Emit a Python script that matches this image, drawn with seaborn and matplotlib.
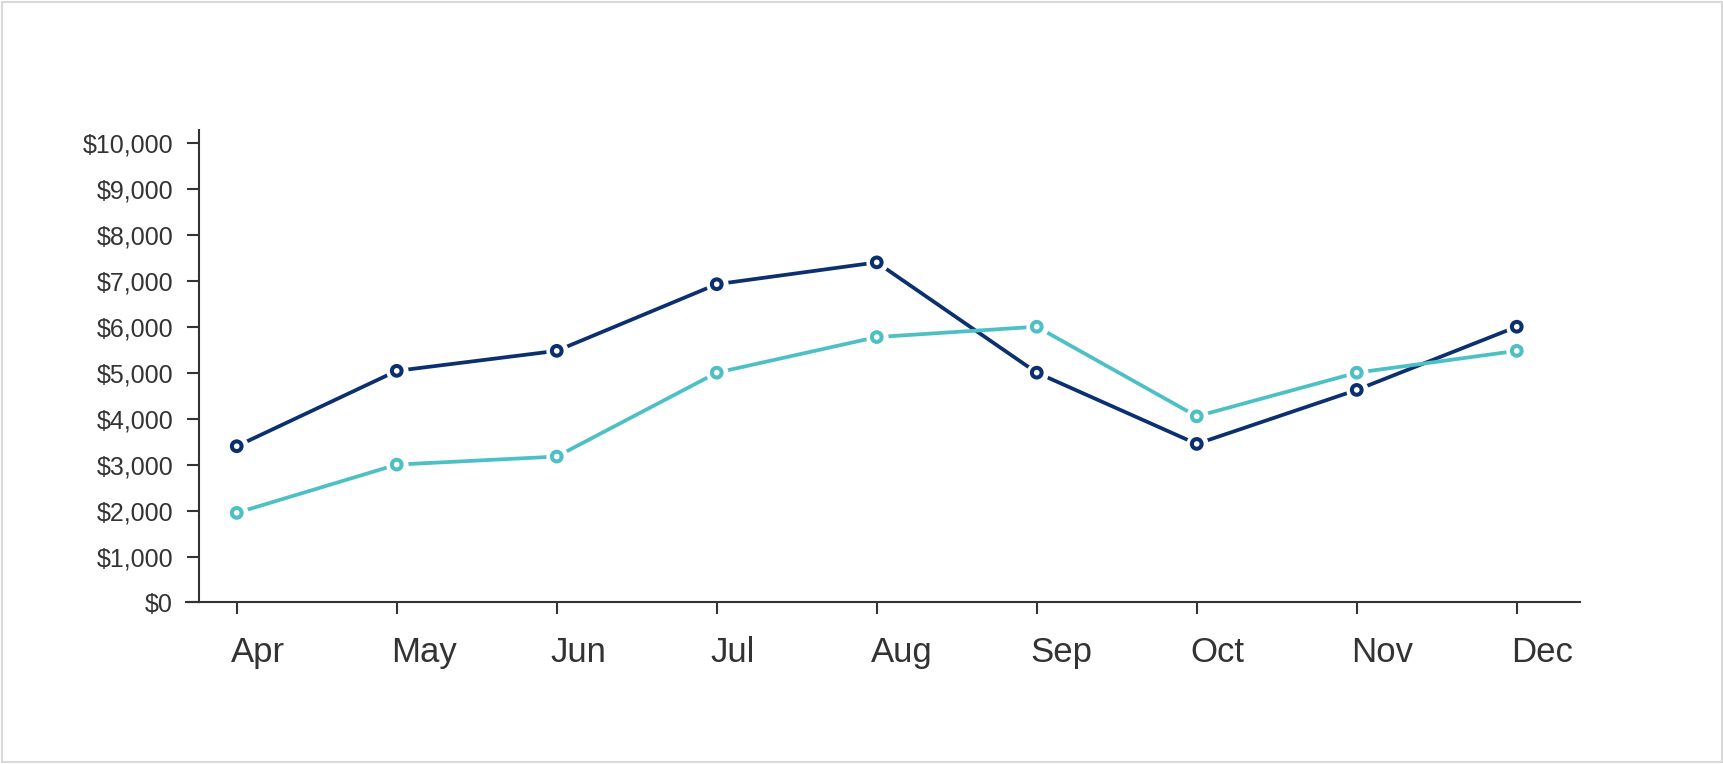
import matplotlib
matplotlib.use("Agg")
import matplotlib.pyplot as plt
import matplotlib.patches as mpatches
import matplotlib.transforms as mtransforms
from matplotlib.ticker import FuncFormatter
import pandas as pd
import seaborn as sns

# Data
months = ["Apr", "May", "Jun", "Jul", "Aug", "Sep", "Oct", "Nov", "Dec"]
series_navy = [3400, 5040, 5475, 6925, 7400, 5000, 3450, 4625, 6000]
series_teal = [1950, 3000, 3175, 5000, 5775, 6000, 4050, 5000, 5475]
series_names = ["Series 1", "Series 2"]
colors = ["#0b3070", "#4dc0c6"]
y_ticks = list(range(0, 10001, 1000))

sns.set_style("white")
plt.rcParams["font.family"] = ["Liberation Sans", "DejaVu Sans"]

df = pd.DataFrame({
    "month": list(range(len(months))) * 2,
    "value": series_navy + series_teal,
    "series": [series_names[0]] * len(months) + [series_names[1]] * len(months),
})
palette = dict(zip(series_names, colors))

fig = plt.figure(figsize=(17.24, 7.64), dpi=100)
ax = fig.add_axes([0.1079, 0.2114, 0.8086, 0.6185])

# Lines
sns.lineplot(data=df, x="month", y="value", hue="series", palette=palette,
             linewidth=2.7, legend=False, ax=ax, zorder=2)
# White halo under markers, then hollow ring markers
sns.scatterplot(data=df, x="month", y="value", color="white", s=16 ** 2,
                linewidth=0, legend=False, ax=ax, zorder=3)
sns.scatterplot(data=df, x="month", y="value", hue="series", palette=palette,
                s=7.0 ** 2, legend=False, ax=ax, zorder=4)
ring = ax.collections[-1]
ring.set_facecolor("white")
ring.set_edgecolor([palette[s] for s in df["series"]])
ring.set_linewidth(2.9)

# Axes styling
ax.set_xlim(-0.3169, 8.3956)
ax.set_ylim(0, 10281)
ax.set_xlabel("")
ax.set_ylabel("")
for side in ["top", "right"]:
    ax.spines[side].set_visible(False)
for side in ["left", "bottom"]:
    ax.spines[side].set_color("#333333")
    ax.spines[side].set_linewidth(1.5)
ax.spines["left"].set_position(("data", -0.236))

ax.set_yticks(y_ticks)
ax.yaxis.set_major_formatter(FuncFormatter(lambda v, p: f"${int(v):,}"))
ax.set_xticks(range(len(months)))
ax.set_xticklabels(months)

ax.tick_params(axis="both", direction="out", length=8.6, width=1.5,
               color="#333333", labelcolor="#333333", left=True, bottom=True)
ax.tick_params(axis="y", labelsize=18, pad=10)
ax.tick_params(axis="x", labelsize=25, pad=15.5)

offset = mtransforms.ScaledTranslation(-6 / 100, 0, fig.dpi_scale_trans)
for lab in ax.get_xticklabels():
    lab.set_horizontalalignment("left")
    lab.set_transform(lab.get_transform() + offset)

ax.grid(False)

# Light grey frame around the whole picture
frame = mpatches.Rectangle((2 / 1724, 2 / 764), 1720 / 1724, 760 / 764,
                           transform=fig.transFigure, fill=False,
                           edgecolor="#d9d9d9", linewidth=1.5)
fig.patches.append(frame)

fig.savefig("out.png", dpi=100, facecolor="white")
